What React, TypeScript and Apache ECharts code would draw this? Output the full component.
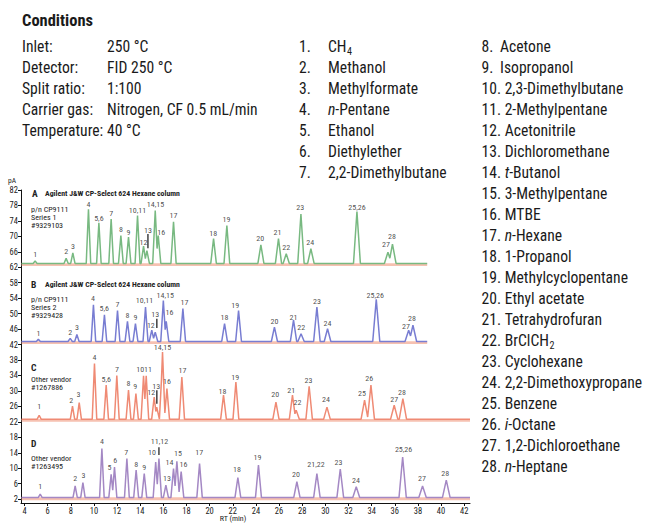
import React, { useEffect, useRef } from "react";
import * as echarts from "echarts";

const FONT =
  "'Liberation Sans Narrow', 'Arial Narrow', 'Roboto Condensed', 'DejaVu Sans Condensed', 'Liberation Sans', sans-serif";

// ---------- axes ----------
const xTicks = [4, 6, 8, 10, 12, 14, 16, 18, 20, 22, 24, 26, 28, 30, 32, 34, 36, 38, 40, 42];
const yTicks = [2, 6, 10, 14, 18, 22, 26, 30, 34, 38, 42, 46, 50, 54, 58, 62, 66, 70, 74, 78, 82];

// ---------- conditions text ----------
const condLabels = ["Inlet:", "Detector:", "Split ratio:", "Carrier gas:", "Temperature:"];
const condValues = ["250 °C", "FID 250 °C", "1:100", "Nitrogen, CF 0.5 mL/min", "40 °C"];

// compound list (rich-text markup: {i|..} italic, {s|..} subscript)
const compoundsLeft = ["CH{s|4}", "Methanol", "Methylformate", "{i|n}-Pentane", "Ethanol", "Diethylether", "2,2-Dimethylbutane"];
const compoundsRight = [
  "Acetone", "Isopropanol", "2,3-Dimethylbutane", "2-Methylpentane", "Acetonitrile",
  "Dichloromethane", "{i|t}-Butanol", "3-Methylpentane", "MTBE", "{i|n}-Hexane",
  "1-Propanol", "Methylcyclopentane", "Ethyl acetate", "Tetrahydrofuran", "BrClCH{s|2}",
  "Cyclohexane", "2,2-Dimethoxypropane", "Benzene", "{i|i}-Octane", "1,2-Dichloroethane", "{i|n}-Heptane",
];

// ---------- chromatogram A (green) ----------
const baseA = 63;
const endA = 38.8;
const rtA = [4.92, 7.6, 8.18, 9.53, 10.43, 11.49, 12.33, 12.99, 13.77, 14.29, 14.58, 15.3, 15.56, 16.88, 20.34, 21.49, 24.43, 25.95, 26.62, 27.89, 28.75, 32.73, 35.41, 35.8];
const hA = [63.6, 64.3, 65.7, 77, 73.5, 74.5, 70.2, 69.8, 75.4, 67.5, 66.3, 76.7, 70.2, 73.8, 69.4, 72.8, 67.8, 69.4, 65.5, 75.8, 66.8, 76.4, 65.9, 68];
const labelsA: [string, number, number][] = [
  ["1", 4.92, 65.2], ["2", 7.6, 66.1], ["3", 8.2, 67.4], ["4", 9.53, 78.2], ["5,6", 10.43, 74.7],
  ["7", 11.49, 75.8], ["8", 12.33, 71.8], ["9", 12.99, 71.1], ["10,11", 13.77, 76.8], ["12", 14.29, 68.5],
  ["13", 14.67, 71.6], ["14,15", 15.32, 78.2], ["16", 15.81, 70.9], ["17", 16.88, 75.3], ["18", 20.31, 70.7],
  ["19", 21.46, 74.3], ["20", 24.37, 69.4], ["21", 25.87, 71.1], ["22", 26.62, 67], ["23", 27.83, 77.4],
  ["24", 28.69, 68.3], ["25,26", 32.73, 77.6], ["27", 35.24, 67.9], ["28", 35.75, 70],
];
const leaderA = [14.67, 66.9, 70.6];

// ---------- chromatogram B (blue) ----------
const baseB = 42.8;
const endB = 38.8;
const rtB = [5.2, 7.95, 8.53, 9.96, 10.91, 12.04, 12.9, 13.59, 14.46, 15.0, 15.3, 16.0, 16.25, 17.69, 21.29, 22.5, 25.6, 27.25, 27.9, 29.27, 30.19, 34.4, 37.2, 37.57];
const hB = [43.4, 43.6, 44.6, 52.3, 49.7, 50.8, 48, 47.4, 51.7, 45.7, 45.2, 53.4, 48, 51.3, 47.4, 50.8, 46.5, 48.3, 44.8, 51.7, 46.1, 53.7, 45.7, 47];
const labelsB: [string, number, number][] = [
  ["1", 5.21, 44.8], ["2", 7.95, 45.1], ["3", 8.53, 46.5], ["4", 9.91, 54], ["5,6", 10.89, 51.4],
  ["7", 12.04, 52.3], ["8", 12.9, 49.5], ["9", 13.59, 48.9], ["10,11", 14.37, 53.4], ["12", 14.92, 47],
  ["13", 15.3, 49.7], ["14,15", 16.16, 54.7], ["16", 16.53, 50.4], ["17", 17.83, 53], ["18", 21.29, 49.1],
  ["19", 22.21, 52.1], ["20", 25.61, 48], ["21", 27.25, 49.1], ["22", 27.92, 46.3], ["23", 29.27, 53.2],
  ["24", 30.19, 47.4], ["25,26", 34.31, 54.7], ["27", 36.96, 46.8], ["28", 37.48, 48.8],
];
const leaderB = [15.44, 46.3, 48.7];

// ---------- chromatogram C (red) ----------
const baseC = 22.7;
const endC = 42.5;
const rtC = [5.27, 8.15, 8.73, 10.05, 11.06, 11.98, 12.99, 13.63, 14.29, 14.52, 15.21, 15.44, 15.93, 16.31, 17.6, 21.2, 22.27, 25.73, 27.16, 27.48, 28.6, 30.14, 33.39, 33.94, 35.95, 36.7];
const hC = [23.7, 26.1, 27, 37.1, 31.5, 34, 30.2, 29.3, 33.9, 33.9, 28.4, 26, 40.1, 30.6, 33.6, 28.9, 32.3, 27.1, 28.9, 25, 31.2, 25.8, 27.6, 31.5, 26.3, 28];
const labelsC: [string, number, number][] = [
  ["1", 5.27, 26.1], ["2", 8.04, 27.4], ["3", 8.67, 29.1], ["4", 10.05, 38.6], ["5,6", 11.06, 32.9],
  ["7", 11.99, 35.6], ["8", 12.99, 31.9], ["9", 13.57, 31.2], ["10", 14.0, 35.6], ["11", 14.67, 35.6],
  ["12", 14.95, 29.5], ["13", 15.38, 31.2], ["14,15", 15.93, 41.2], ["16", 16.31, 32.5], ["17", 17.66, 35.3],
  ["18", 21.11, 29.9], ["19", 22.21, 33.6], ["20", 25.67, 29.1], ["21", 27.05, 30.1], ["22", 27.6, 27],
  ["23", 28.55, 32.7], ["24", 30.05, 27.8], ["25", 33.16, 29.3], ["26", 33.79, 33.2], ["27", 35.95, 27.8], ["28", 36.62, 29.6],
];
const leaderC = [15.44, 26.7, 30.2];

// ---------- chromatogram D (purple) ----------
const baseD = 2.4;
const endD = 42.5;
const rtD = [5.36, 8.38, 9.05, 10.69, 11.49, 11.78, 12.85, 13.65, 14.35, 15.34, 15.62, 16.22, 16.88, 17.17, 17.54, 19.13, 22.44, 24.22, 27.54, 29.27, 31.29, 32.67, 36.68, 38.4, 40.45];
const hD = [3.3, 5.4, 6.3, 15.1, 8.4, 10.3, 12.5, 9.5, 8.6, 11.6, 12.5, 5.6, 9.9, 11.8, 9.1, 11.2, 7.6, 10.8, 6.5, 8.6, 9.8, 5.2, 12.9, 5.4, 6.9];
const labelsD: [string, number, number][] = [
  ["1", 5.36, 5.2], ["2", 8.38, 7.3], ["3", 9.1, 8], ["4", 10.69, 16.8], ["5", 11.35, 10.2],
  ["6", 11.84, 12.1], ["7", 12.79, 14], ["8", 13.65, 11], ["9", 14.35, 10.2], ["10", 15.01, 14.1],
  ["11,12", 15.67, 16.8], ["13", 16.31, 7.3], ["14", 16.53, 11.6], ["15", 17.26, 13.8], ["16", 17.74, 11],
  ["17", 19.1, 14], ["18", 22.36, 9.7], ["19", 24.14, 12.8], ["20", 27.46, 8.4], ["21,22", 29.19, 11],
  ["23", 31.14, 11.5], ["24", 32.64, 6.7], ["25,26", 36.76, 14.8], ["27", 38.35, 7.3], ["28", 40.36, 8.6],
];
const leaderD = [15.62, 13.4, 15.4];

const START = 3.75;

type Tri = { r: number; h: number; w: number };

// polyline through baseline and each peak (triangular peak outline), upper envelope
function buildTrace(base: number, rts: number[], hs: number[], end: number): number[][] {
  const tris: Tri[] = rts.map((r, i) => ({ r, h: hs[i], w: 0.15 + 0.0045 * r }));
  const xs: number[] = [START, end];
  const lines: { m: number; c: number }[][] = tris.map((t) => {
    const m = (t.h - base) / t.w;
    return [
      { m, c: base - m * (t.r - t.w) },
      { m: -m, c: base + m * (t.r + t.w) },
    ];
  });
  tris.forEach((t) => xs.push(t.r - t.w, t.r, t.r + t.w));
  for (let i = 0; i < tris.length; i++) {
    for (let j = i + 1; j < tris.length; j++) {
      if (Math.abs(tris[i].r - tris[j].r) > tris[i].w + tris[j].w) continue;
      for (const a of lines[i])
        for (const b of lines[j]) {
          if (a.m === b.m) continue;
          xs.push((b.c - a.c) / (a.m - b.m));
        }
    }
  }
  const f = (x: number) => {
    let v = base;
    for (const t of tris) {
      const d = Math.abs(x - t.r);
      if (d < t.w) v = Math.max(v, base + (t.h - base) * (1 - d / t.w));
    }
    return v;
  };
  const sorted = xs.filter((x) => x >= START && x <= end).sort((a, b) => a - b);
  const out: number[][] = [];
  let last = -Infinity;
  for (const x of sorted) {
    if (x - last < 1e-6) continue;
    out.push([x, f(x)]);
    last = x;
  }
  return out;
}

const panels = [
  { base: baseA, end: endA, rts: rtA, hs: hA, labels: labelsA, leader: leaderA, color: "#78b981" },
  { base: baseB, end: endB, rts: rtB, hs: hB, labels: labelsB, leader: leaderB, color: "#787dd2" },
  { base: baseC, end: endC, rts: rtC, hs: hC, labels: labelsC, leader: leaderC, color: "#ef8a74" },
  { base: baseD, end: endD, rts: rtD, hs: hD, labels: labelsD, leader: leaderD, color: "#a488c4" },
];

export default function App() {
  const ref = useRef<HTMLDivElement>(null);
  useEffect(() => {
    if (!ref.current) return;
    const chart = echarts.init(ref.current, null, { renderer: "svg" });

    const ctx = document.createElement("canvas").getContext("2d")!;
    const BIG = 17;
    const SX = 0.92;
    const measure = (t: string, size: number, style = "") => {
      ctx.font = `${style}${size}px ${FONT}`;
      return ctx.measureText(t).width * SX;
    };

    const txt = (x: number, y: number, text: string, extra: any = {}, sx = SX) => ({
      type: "text",
      x,
      y,
      scaleX: sx,
      silent: true,
      style: {
        text,
        fontSize: BIG,
        fontFamily: FONT,
        fill: "#1a1a1a",
        verticalAlign: "middle",
        align: "left",
        ...extra,
      },
    });

    // renders a string that may contain {i|..} and {s|..} markup
    const richItem = (x: number, y: number, s: string) => {
      const els: any[] = [];
      const re = /\{([is])\|([^}]*)\}/g;
      let cx = x;
      let idx = 0;
      let m: RegExpExecArray | null;
      const pushPlain = (t: string) => {
        if (!t) return;
        els.push(txt(cx, y, t));
        cx += measure(t, BIG);
      };
      while ((m = re.exec(s))) {
        pushPlain(s.slice(idx, m.index));
        if (m[1] === "i") {
          els.push(txt(cx, y, m[2], { fontStyle: "italic" }));
          cx += measure(m[2], BIG, "italic ");
        } else {
          els.push(txt(cx + 0.5, y + 5, m[2], { fontSize: 11 }));
          cx += measure(m[2], 11);
        }
        idx = m.index + m[0].length;
      }
      pushPlain(s.slice(idx));
      return els;
    };

    const graphics: any[] = [];
    graphics.push(txt(22, 20, "Conditions", { fontWeight: "bold", fontSize: 17 }, 0.97));
    const ROW = 21;
    condLabels.forEach((l, i) => {
      graphics.push(txt(22, 46 + i * ROW, l));
      graphics.push(txt(107, 46 + i * ROW, condValues[i]));
    });
    compoundsLeft.forEach((c, i) => {
      graphics.push(txt(299, 46 + i * ROW, `${i + 1}.`));
      graphics.push(...richItem(328, 46 + i * ROW, c));
    });
    compoundsRight.forEach((c, i) => {
      const n = i + 8;
      const y = 46 + i * ROW;
      if (n < 10) {
        graphics.push(txt(481.5, y, `${n}.`));
        graphics.push(...richItem(500, y, c));
      } else {
        const prefix = `${n}. `;
        graphics.push(txt(481.5, y, prefix));
        graphics.push(...richItem(481.5 + measure(prefix, BIG), y, c));
      }
    });

    // panel annotations
    const small = (x: number, y: number, t: string, extra: any = {}) =>
      txt(x, y, t, { fontSize: 8, fill: "#222", ...extra }, 1);
    const title = "Agilent J&W CP-Select 624 Hexane column";
    graphics.push(small(32, 193, "A", { fontWeight: "bold", fontSize: 9.5 }));
    graphics.push(small(45, 193, title, { fontWeight: "bold", fontSize: 7.8 }));
    graphics.push(small(31, 209, "p/n CP9111"));
    graphics.push(small(31, 217.3, "Series 1"));
    graphics.push(small(31, 225.6, "#9329103"));
    graphics.push(small(31, 284, "B", { fontWeight: "bold", fontSize: 9.5 }));
    graphics.push(small(45, 284, title, { fontWeight: "bold", fontSize: 7.8 }));
    graphics.push(small(31, 299, "p/n CP9111"));
    graphics.push(small(31, 307.3, "Series 2"));
    graphics.push(small(31, 315.6, "#9329428"));
    graphics.push(small(31, 367.7, "C", { fontWeight: "bold", fontSize: 9.5 }));
    graphics.push(small(31, 379, "Other vendor"));
    graphics.push(small(31, 387.7, "#1267886"));
    graphics.push(small(31, 443.3, "D", { fontWeight: "bold", fontSize: 9.5 }));
    graphics.push(small(31, 458, "Other vendor"));
    graphics.push(small(31, 466.7, "#1263495"));
    graphics.push(small(12, 180.5, "pA", { fontSize: 7.5, align: "center" }));
    graphics.push(small(233, 518.5, "RT (min)", { fontSize: 8, align: "center" }));

    const series: any[] = [];
    panels.forEach((p) => {
      series.push({
        type: "line",
        data: [[START, p.base - 0.3], [p.end, p.base - 0.3]],
        symbol: "none",
        silent: true,
        lineStyle: { color: "#f3ac97", width: 2.8, opacity: 0.75 },
        z: 1,
      });
      series.push({
        type: "line",
        data: buildTrace(p.base, p.rts, p.hs, p.end),
        symbol: "none",
        silent: true,
        lineStyle: { color: p.color, width: 1.5 },
        z: 2,
      });
      series.push({
        type: "line",
        data: [[p.leader[0], p.leader[1]], [p.leader[0], p.leader[2]]],
        symbol: "none",
        silent: true,
        lineStyle: { color: "#111", width: 1.2 },
        z: 4,
      });
      series.push({
        type: "scatter",
        data: p.labels.map(([t, x, y]) => ({ name: t, value: [x, y] })),
        symbolSize: 0,
        silent: true,
        z: 5,
        label: {
          show: true,
          position: "inside",
          formatter: "{b}",
          fontSize: 8,
          color: "#222",
          fontFamily: FONT,
        },
      });
    });

    const axisText = { fontSize: 8.5, color: "#222", fontFamily: FONT };
    chart.setOption({
      animation: false,
      backgroundColor: "#ffffff",
      grid: { left: 21, right: 179, top: 190, bottom: 20, outerBoundsMode: "none" },
      xAxis: {
        type: "value",
        min: 3.7,
        max: 42.5,
        axisLine: { show: true, onZero: false, lineStyle: { color: "#111", width: 1 } },
        axisTick: { show: true, length: 3, customValues: xTicks, lineStyle: { color: "#111" } },
        axisLabel: { ...axisText, margin: 3, customValues: xTicks },
        splitLine: { show: false },
      },
      yAxis: {
        type: "value",
        min: 1,
        max: 82,
        axisLine: { show: true, onZero: false, lineStyle: { color: "#111", width: 1 } },
        axisTick: { show: true, length: 3, customValues: yTicks, lineStyle: { color: "#111" } },
        axisLabel: { ...axisText, margin: 3, customValues: yTicks },
        splitLine: { show: false },
      },
      series,
      graphic: graphics,
    });
    return () => chart.dispose();
  }, []);
  return (
    <div
      ref={ref}
      style={{ position: "absolute", left: 0, top: 0, width: 649, height: 523, background: "#fff" }}
    />
  );
}
